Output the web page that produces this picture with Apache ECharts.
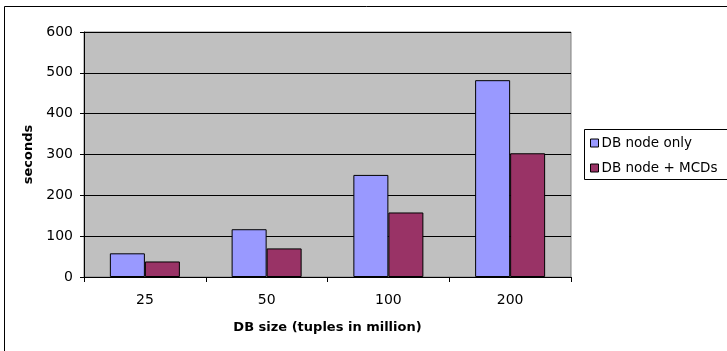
<!DOCTYPE html>
<html>
<head>
<meta charset="utf-8">
<script src="https://cdn.jsdelivr.net/npm/echarts@6/dist/echarts.min.js"></script>
<style>
  html, body { margin: 0; padding: 0; background: #fff; }
  #chart { width: 727px; height: 351px; }
</style>
</head>
<body>
<div id="chart"></div>
<script>
// DB size categories (tuples in million)
const categories = ['25', '50', '100', '200'];
// Run time in seconds
const dbNodeOnly = [58, 117, 250, 482];
const dbNodeMcds = [38, 70, 158, 303];
const seriesNames = ['DB node only', 'DB node + MCDs'];
const yTicks = { min: 0, max: 600, step: 100 };

const font = '"DejaVu Sans", Verdana, sans-serif';
const chart = echarts.init(document.getElementById('chart'), null, { renderer: 'canvas' });

chart.setOption({
  animation: false,
  backgroundColor: '#ffffff',
  textStyle: { fontFamily: font, color: '#000' },
  grid: {
    left: 84, top: 32, width: 487, height: 245,
    show: true, backgroundColor: '#c0c0c0', borderColor: '#808080', borderWidth: 1,
    containLabel: false
  },
  graphic: [
    // outer chart frame
    { type: 'rect', silent: true, z: 0,
      shape: { x: 4.5, y: 6.5, width: 760, height: 400 },
      style: { fill: 'none', stroke: '#000', lineWidth: 1 } },
    // legend frame
    { type: 'rect', silent: true, z: 1,
      shape: { x: 584.5, y: 129.5, width: 160, height: 50 },
      style: { fill: '#fff', stroke: '#000', lineWidth: 1 } }
  ],
  legend: {
    orient: 'vertical', left: 590, top: 136, z: 5, padding: 0,
    itemWidth: 8, itemHeight: 8, itemGap: 11,
    icon: 'rect',
    itemStyle: { borderColor: '#000', borderWidth: 1 },
    textStyle: { fontFamily: font, fontSize: 13.5, lineHeight: 14, color: '#000', padding: [0, 0, 0, -2] },
    data: seriesNames
  },
  xAxis: {
    type: 'category', data: categories,
    name: 'DB size (tuples in million)', nameLocation: 'middle', nameGap: 44,
    nameTextStyle: { fontFamily: font, fontSize: 13, fontWeight: 'bold', color: '#000' },
    axisLine: { lineStyle: { color: '#000', width: 1 } },
    axisTick: { show: true, alignWithLabel: false, length: 5, lineStyle: { color: '#000' } },
    axisLabel: { fontFamily: font, fontSize: 14, color: '#000', margin: 16 },
    splitLine: { show: false }
  },
  yAxis: {
    type: 'value', min: yTicks.min, max: yTicks.max, interval: yTicks.step,
    name: 'seconds', nameLocation: 'middle', nameGap: 45, nameRotate: 90,
    nameTextStyle: { fontFamily: font, fontSize: 13, fontWeight: 'bold', color: '#000' },
    axisLine: { show: true, lineStyle: { color: '#000', width: 1 } },
    axisTick: { show: true, length: 4, lineStyle: { color: '#000' } },
    axisLabel: { fontFamily: font, fontSize: 14, color: '#000', margin: 11 },
    splitLine: { show: true, lineStyle: { color: '#000', width: 1 } }
  },
  series: [
    { name: seriesNames[0], type: 'bar', data: dbNodeOnly,
      barGap: '0%', barCategoryGap: '42.5%',
      itemStyle: { color: '#9999ff', borderColor: '#000', borderWidth: 1 } },
    { name: seriesNames[1], type: 'bar', data: dbNodeMcds,
      barGap: '0%', barCategoryGap: '42.5%',
      itemStyle: { color: '#993366', borderColor: '#000', borderWidth: 1 } }
  ]
});
</script>
</body>
</html>
